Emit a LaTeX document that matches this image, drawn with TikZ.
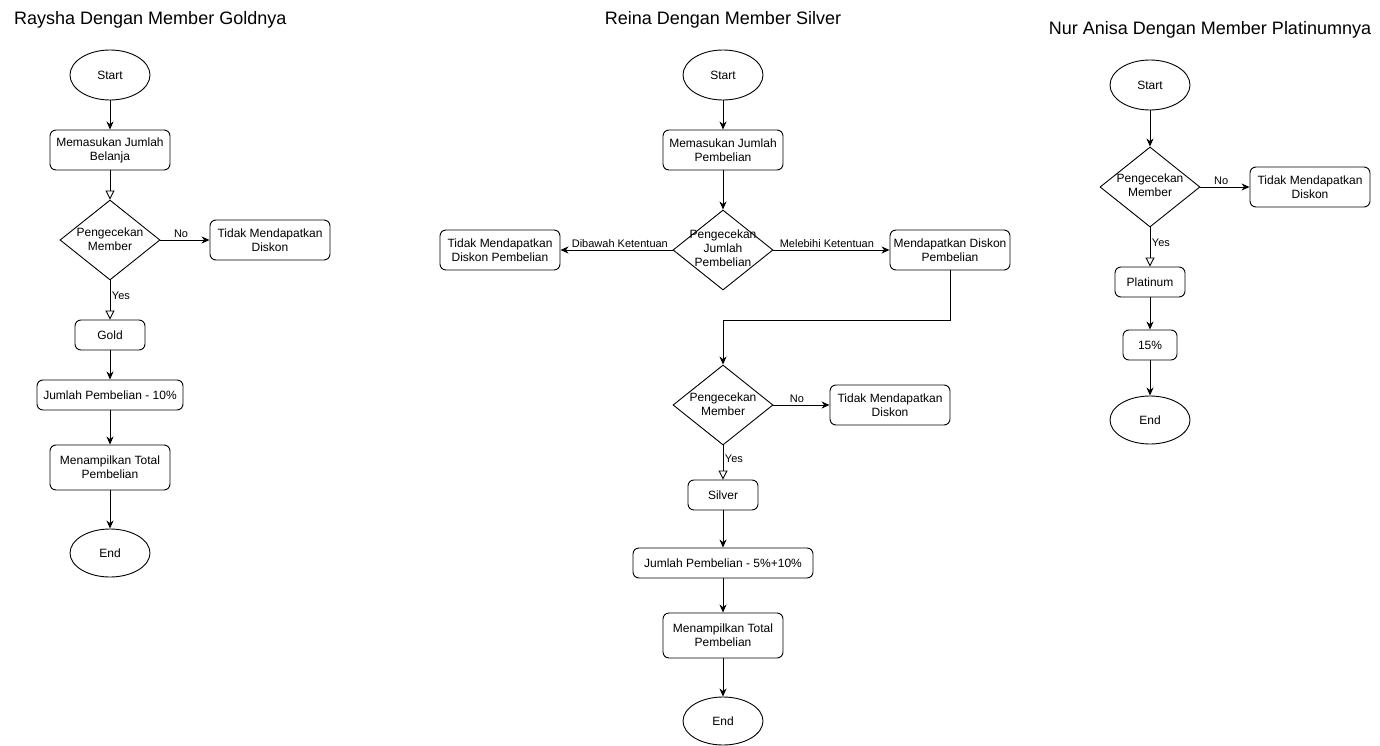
\documentclass[tikz,border=0pt]{standalone}
\usepackage{fontspec}
\setmainfont{Liberation Sans}
\usetikzlibrary{shapes.geometric,arrows.meta}
\tikzset{
  every picture/.style={x=1pt,y=-1pt},
  base/.style={draw=black, line width=0.9pt, align=center, inner sep=0pt, font=\fontsize{12}{14}\selectfont},
  procbox/.style={base, rectangle, rounded corners=6pt},
  term/.style={base, ellipse},
  dia/.style={draw=black, line width=0.9pt, diamond, inner sep=0pt, minimum width=100pt, minimum height=80pt},
  diatext/.style={align=center, inner sep=0pt, font=\fontsize{12}{14}\selectfont},
  arr/.style={draw=black, line width=0.9pt, -{Stealth[length=8pt,width=7pt,inset=2.5pt]}},
  oarr/.style={draw=black, line width=0.9pt, -{Triangle[open,length=9pt,width=9pt]}},
  lbl/.style={font=\fontsize{11}{13}\selectfont, inner sep=1.5pt},
  ttl/.style={font=\fontsize{18}{21}\selectfont, inner sep=0pt}
}
\begin{document}
\begin{tikzpicture}
\useasboundingbox (0,0) rectangle (1380,746);
% ---------- Diagram 1 ----------
\node[ttl, anchor=west] (t1) at (14,20) {Raysha Dengan Member Goldnya};
\node[term, minimum width=80pt, minimum height=50pt] (s1) at (110,75) {Start};
\node[procbox, minimum width=120pt, minimum height=40pt] (b1) at (110,150) {Memasukan Jumlah\\Belanja};
\node[dia] (d1) at (110,240) {};
\node[diatext] (d1t) at (110,239) {Pengecekan\\Member};
\node[procbox, minimum width=120pt, minimum height=40pt] (n1) at (270,240) {Tidak Mendapatkan\\Diskon};
\node[procbox, minimum width=70pt, minimum height=30pt] (g1) at (110,335) {Gold};
\node[procbox, minimum width=146pt, minimum height=30pt] (j1) at (110,395) {Jumlah Pembelian - 10\%};
\node[procbox, minimum width=120pt, minimum height=45pt] (m1) at (110,467.5) {Menampilkan Total\\Pembelian};
\node[term, minimum width=80pt, minimum height=48pt] (e1) at (110,553) {End};
\draw[arr] (s1) -- (b1);
\draw[oarr] (b1) -- (d1.north);
\draw[arr] (d1.east) -- node[lbl, above, pos=0.42] {No} (n1);
\draw[oarr] (d1.south) -- node[lbl, right, pos=0.38] {Yes} (g1);
\draw[arr] (g1) -- (j1);
\draw[arr] (j1) -- (m1);
\draw[arr] (m1) -- (e1);
% ---------- Diagram 2 ----------
\node[ttl] (t2) at (723,20) {Reina Dengan Member Silver};
\node[term, minimum width=80pt, minimum height=50pt] (s2) at (723,75) {Start};
\node[procbox, minimum width=120pt, minimum height=40pt] (b2) at (723,150) {Memasukan Jumlah\\Pembelian};
\node[dia] (d2) at (723,250) {};
\node[diatext] (d2t) at (723,248) {Pengecekan\\Jumlah\\Pembelian};
\node[procbox, minimum width=120pt, minimum height=40pt] (l2) at (500,250) {Tidak Mendapatkan\\Diskon Pembelian};
\node[procbox, minimum width=120pt, minimum height=40pt] (r2) at (950,250) {Mendapatkan Diskon\\Pembelian};
\coordinate (c2a) at (950,320);
\coordinate (c2b) at (723,320);
\node[dia] (d3) at (723,405) {};
\node[diatext] (d3t) at (723,404) {Pengecekan\\Member};
\node[procbox, minimum width=120pt, minimum height=40pt] (n2) at (890,405) {Tidak Mendapatkan\\Diskon};
\node[procbox, minimum width=70pt, minimum height=30pt] (sv) at (723,495) {Silver};
\node[procbox, minimum width=180pt, minimum height=30pt] (j2) at (723,563) {Jumlah Pembelian - 5\%+10\%};
\node[procbox, minimum width=120pt, minimum height=45pt] (m2) at (723,635.5) {Menampilkan Total\\Pembelian};
\node[term, minimum width=80pt, minimum height=48pt] (e2) at (723,721) {End};
\draw[arr] (s2) -- (b2);
\draw[arr] (b2) -- (d2.north);
\draw[arr] (d2.west) -- node[lbl, above, pos=0.47] {Dibawah Ketentuan} (l2);
\draw[arr] (d2.east) -- node[lbl, above, pos=0.46] {Melebihi Ketentuan} (r2);
\draw[arr] (r2.south) -- (c2a) -- (c2b) -- (d3.north);
\draw[arr] (d3.east) -- node[lbl, above, pos=0.42] {No} (n2);
\draw[oarr] (d3.south) -- node[lbl, right, pos=0.38] {Yes} (sv);
\draw[arr] (sv) -- (j2);
\draw[arr] (j2) -- (m2);
\draw[arr] (m2) -- (e2);
% ---------- Diagram 3 ----------
\node[ttl] (t3) at (1210,30) {Nur Anisa Dengan Member Platinumnya};
\node[term, minimum width=80pt, minimum height=50pt] (s3) at (1150,85) {Start};
\node[dia] (d4) at (1150,187) {};
\node[diatext] (d4t) at (1150,185) {Pengecekan\\Member};
\node[procbox, minimum width=120pt, minimum height=40pt] (n3) at (1310,187) {Tidak Mendapatkan\\Diskon};
\node[procbox, minimum width=70pt, minimum height=30pt] (p3) at (1150,282) {Platinum};
\node[procbox, minimum width=54pt, minimum height=30pt] (f3) at (1150,345) {15\%};
\node[term, minimum width=80pt, minimum height=48pt] (e3) at (1150,420) {End};
\draw[arr] (s3) -- (d4.north);
\draw[arr] (d4.east) -- node[lbl, above, pos=0.42] {No} (n3);
\draw[oarr] (d4.south) -- node[lbl, right, pos=0.38] {Yes} (p3);
\draw[arr] (p3) -- (f3);
\draw[arr] (f3) -- (e3);
\end{tikzpicture}
\end{document}
